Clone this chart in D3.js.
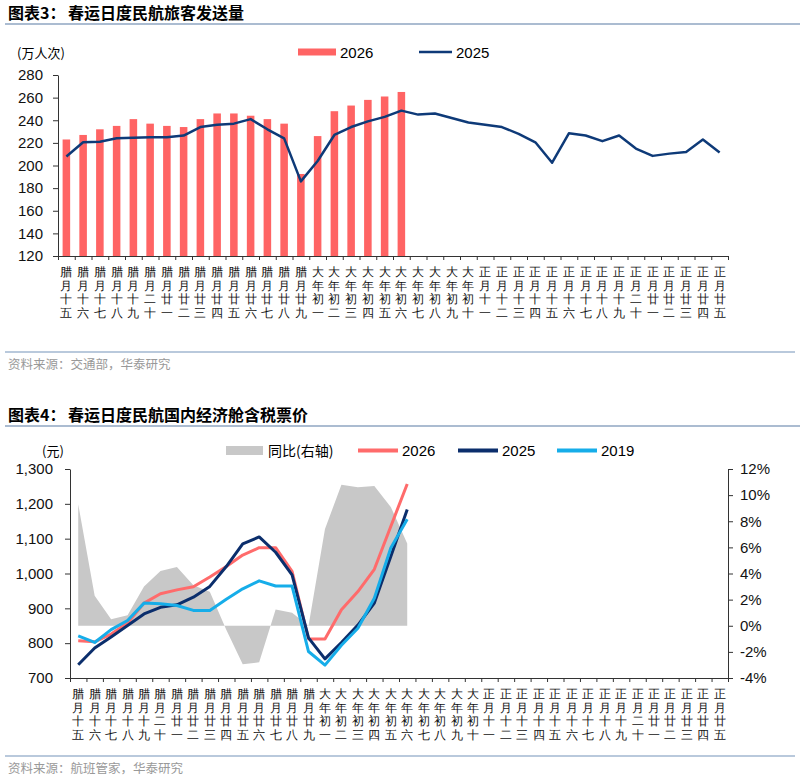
<!DOCTYPE html>
<html>
<head>
<meta charset="utf-8">
<script src="https://cdn.jsdelivr.net/npm/d3@7"></script>
<style>
  body { margin: 0; background: #fff; }
  text { font-family: "Liberation Sans", Arial, sans-serif; }
  .cjk { font-family: "Noto Sans CJK SC", sans-serif; }
  .axis path, .axis line { stroke: #333; }
  .axis text { font-size: 15px; fill: #111; font-family: "Liberation Sans", Arial, sans-serif; }
</style>
</head>
<body>
<script>
// lunar calendar days on both charts
var categories = ['腊月十五','腊月十六','腊月十七','腊月十八','腊月十九','腊月二十','腊月廿一','腊月廿二','腊月廿三','腊月廿四',
  '腊月廿五','腊月廿六','腊月廿七','腊月廿八','腊月廿九','大年初一','大年初二','大年初三','大年初四','大年初五',
  '大年初六','大年初七','大年初八','大年初九','大年初十','正月十一','正月十二','正月十三','正月十四','正月十五',
  '正月十六','正月十七','正月十八','正月十九','正月二十','正月廿一','正月廿二','正月廿三','正月廿四','正月廿五'];

// chart 3 - passengers (万人次)
var passengers2026 = [223, 227, 232, 235, 241, 237, 235, 234, 241, 246, 246, 244, 241, 237, 192.5, 226, 248, 253, 258, 261, 265];
var passengers2025 = [208, 220.5, 221, 224, 224.5, 225, 225, 226.5, 234, 236, 237, 241, 232, 224, 186, 204, 227, 234, 239, 243, 248.5,
  245, 246, 242, 238, 236, 234, 228, 220.5, 202.5, 228.5, 226.5, 221.5, 226.5, 215, 208.5, 210.5, 212, 223, 211.5];
var passengerTicks = [120, 140, 160, 180, 200, 220, 240, 260, 280];

// chart 4 - fare (元) and yoy (%)
var fare2026 = [807, 804, 826, 858, 915, 942, 953, 962, 990, 1020, 1053, 1074, 1074, 1006, 812, 812, 896, 948, 1012, 1135, 1257];
var fare2025 = [738, 786, 818, 851, 884, 903, 910, 932, 963, 1020, 1085, 1105, 1061, 996, 815, 755, 802, 852, 915, 1049, 1184];
var fare2019 = [821, 802, 839, 865, 915, 913, 908, 894, 894, 926, 956, 979, 964, 964, 776, 737, 794, 843, 929, 1073, 1156];
var fareYoy = [9.3, 2.3, 0.5, 0.8, 3.0, 4.2, 4.5, 3.1, 2.6, -0.3, -2.95, -2.8, 1.25, 1.0, 0, 7.4, 10.8, 10.6, 10.7, 9.1, 6.3];
var fareTicks = [700, 800, 900, 1000, 1100, 1200, 1300];
var yoyTicks = [-4, -2, 0, 2, 4, 6, 8, 10, 12];

var RED = "#ff6464", NAVY = "#0e3a78";

var svg = d3.select("body").append("svg").attr("width", 800).attr("height", 780);
svg.append("rect").attr("width", 800).attr("height", 780).attr("fill", "#fff");

// header + footer of a figure block
function frame(top, num, title, source, footY) {
  svg.append("text").attr("class", "cjk").attr("x", 8).attr("y", top + 19)
    .attr("font-size", 16).attr("font-weight", 700).text("图表" + num + "：");
  svg.append("text").attr("class", "cjk").attr("x", 68).attr("y", top + 19)
    .attr("font-size", 16).attr("font-weight", 700).text(title);
  svg.append("line").attr("x1", 5).attr("x2", 800).attr("y1", top + 24).attr("y2", top + 24)
    .attr("stroke", "#8fa6c2").attr("stroke-width", 1.5);
  svg.append("line").attr("x1", 5).attr("x2", 795).attr("y1", footY).attr("y2", footY)
    .attr("stroke", "#b9c9dc").attr("stroke-width", 2);
  svg.append("text").attr("class", "cjk").attr("x", 8).attr("y", footY + 17)
    .attr("font-size", 12.5).attr("fill", "#999").text(source);
}

// category axis with ticks on band edges + stacked vertical labels
function catAxis(g, x, yPos) {
  var edges = d3.scaleLinear().domain([0, categories.length]).range(x.range());
  g.append("g").attr("class", "axis").attr("transform", "translate(0," + yPos + ")")
    .call(d3.axisBottom(edges).tickValues(d3.range(categories.length + 1)).tickFormat("").tickSize(4).tickSizeOuter(0));
  var lab = g.append("g").attr("class", "cjk").attr("font-size", 12).attr("fill", "#111").attr("text-anchor", "middle");
  categories.forEach(function(c) {
    var t = lab.append("text").attr("x", x(c) + x.bandwidth() / 2).attr("y", yPos + 20);
    c.split("").forEach(function(ch, i) {
      t.append("tspan").attr("x", x(c) + x.bandwidth() / 2).attr("dy", i == 0 ? 0 : 13.6).text(ch);
    });
  });
}

// ---------------- chart 3 ----------------
frame(0, 3, "春运日度民航旅客发送量", "资料来源：交通部，华泰研究", 352);

var x1 = d3.scaleBand().domain(categories).range([58, 728]).paddingInner(0.55).paddingOuter(0.275);
var xc1 = d3.scaleBand().domain(categories).range([58, 728]);
var y1 = d3.scaleLinear().domain([120, 280]).range([256, 75]);
var g1 = svg.append("g");

g1.selectAll(".bar").data(passengers2026).enter().append("rect")
  .attr("x", function(d, i) { return x1(categories[i]); })
  .attr("width", x1.bandwidth())
  .attr("y", function(d) { return y1(d); })
  .attr("height", function(d) { return y1(120) - y1(d); })
  .attr("fill", RED);

var line1 = d3.line()
  .x(function(d, i) { return xc1(categories[i]) + xc1.bandwidth() / 2; })
  .y(function(d) { return y1(d); });
g1.append("path").attr("d", line1(passengers2025)).attr("fill", "none")
  .attr("stroke", NAVY).attr("stroke-width", 2.5).attr("stroke-linejoin", "round");

g1.append("g").attr("class", "axis").attr("transform", "translate(58,0)")
  .call(d3.axisLeft(y1).tickValues(passengerTicks).tickSize(5).tickSizeOuter(0).tickPadding(10));
catAxis(g1, xc1, 256);

g1.append("text").attr("class", "cjk").attr("x", 17).attr("y", 58).attr("font-size", 13).text("(万人次)");
g1.append("rect").attr("x", 298).attr("y", 48.5).attr("width", 38).attr("height", 7).attr("fill", RED);
g1.append("text").attr("x", 340).attr("y", 57.5).attr("font-size", 15).text("2026");
g1.append("line").attr("x1", 419).attr("x2", 452).attr("y1", 52).attr("y2", 52).attr("stroke", NAVY).attr("stroke-width", 2.5);
g1.append("text").attr("x", 456).attr("y", 57.5).attr("font-size", 15).text("2025");

// ---------------- chart 4 ----------------
frame(402, 4, "春运日度民航国内经济舱含税票价", "资料来源：航班管家，华泰研究", 756);

var xc2 = d3.scaleBand().domain(categories).range([70, 728]);
var yL = d3.scaleLinear().domain([700, 1300]).range([678, 469]);
var yR = d3.scaleLinear().domain([-4, 12]).range([678, 469]);
var g2 = svg.append("g");
var cx2 = function(d, i) { return xc2(categories[i]) + xc2.bandwidth() / 2; };

var area = d3.area().x(cx2).y0(yR(0)).y1(function(d) { return yR(d); });
g2.append("path").attr("d", area(fareYoy)).attr("fill", "#c8c8c8");

var line2 = d3.line().x(cx2).y(function(d) { return yL(d); });
[[fare2026, "#ff6b6b"], [fare2025, "#0b2e6c"], [fare2019, "#16ade9"]].forEach(function(s) {
  g2.append("path").attr("d", line2(s[0])).attr("fill", "none")
    .attr("stroke", s[1]).attr("stroke-width", 3).attr("stroke-linejoin", "round");
});

g2.append("g").attr("class", "axis").attr("transform", "translate(70,0)")
  .call(d3.axisLeft(yL).tickValues(fareTicks).tickFormat(d3.format(",")).tickSize(5).tickSizeOuter(0).tickPadding(12));
g2.append("g").attr("class", "axis").attr("transform", "translate(728,0)")
  .call(d3.axisRight(yR).tickValues(yoyTicks).tickFormat(function(d) { return d + "%"; }).tickSize(5).tickSizeOuter(0).tickPadding(7));
catAxis(g2, xc2, 678);

g2.append("text").attr("class", "cjk").attr("x", 42).attr("y", 456).attr("font-size", 13).text("(元)");
g2.append("rect").attr("x", 226).attr("y", 446).attr("width", 37).attr("height", 9).attr("fill", "#c8c8c8");
g2.append("text").attr("class", "cjk").attr("x", 268).attr("y", 456).attr("font-size", 14).text("同比(右轴)");
[[358, "2026", "#ff6b6b"], [458, "2025", "#0b2e6c"], [557, "2019", "#16ade9"]].forEach(function(l) {
  g2.append("line").attr("x1", l[0]).attr("x2", l[0] + 40).attr("y1", 450.5).attr("y2", 450.5)
    .attr("stroke", l[2]).attr("stroke-width", 4);
  g2.append("text").attr("x", l[0] + 44).attr("y", 456).attr("font-size", 15).text(l[1]);
});
</script>
</body>
</html>
